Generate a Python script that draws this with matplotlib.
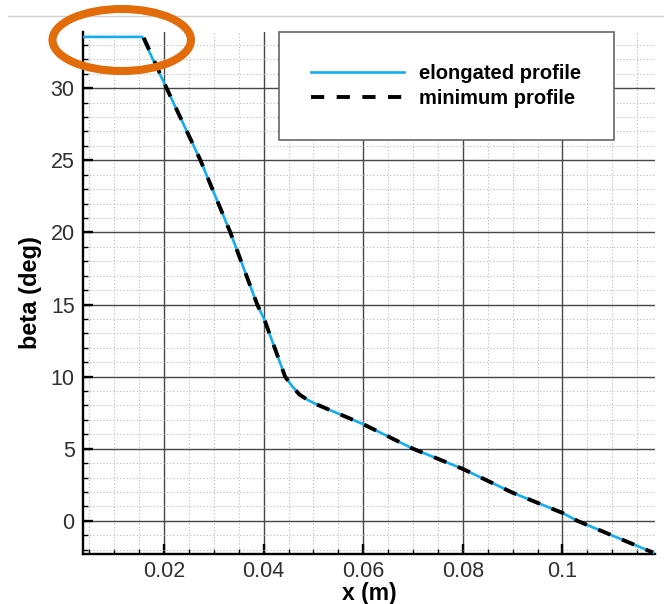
import matplotlib
matplotlib.use("Agg")
import matplotlib.pyplot as plt
from matplotlib.patches import Ellipse
from matplotlib.lines import Line2D
from matplotlib.ticker import MultipleLocator, FuncFormatter

plt.rcParams['font.family'] = ['Liberation Sans', 'DejaVu Sans']

# elongated profile (blue) - flat start then same curve
x_elong = [0.0037, 0.0156, 0.0205, 0.0273, 0.0333, 0.0387, 0.0402, 0.0443,
           0.0458, 0.0472, 0.0490, 0.0508, 0.0600, 0.0700, 0.0800, 0.0900,
           0.1000, 0.1030, 0.1182]
beta_elong = [33.56, 33.56, 30.0, 25.0, 20.0, 15.0, 13.9, 10.0,
              9.3, 8.75, 8.35, 8.05, 6.7, 5.0, 3.6, 1.95,
              0.55, 0.0, -2.2]

# minimum profile (black dashed)
x_min = [0.0159, 0.0205, 0.0273, 0.0333, 0.0387, 0.0402, 0.0443,
         0.0458, 0.0472, 0.0490, 0.0508, 0.0600, 0.0700, 0.0800, 0.0900,
         0.1000, 0.1030, 0.1182]
beta_min = [33.5, 30.0, 25.0, 20.0, 15.0, 13.9, 10.0,
            9.3, 8.75, 8.35, 8.05, 6.7, 5.0, 3.6, 1.95,
            0.55, 0.0, -2.2]

labels = ["elongated profile", "minimum profile"]

fig = plt.figure(figsize=(6.64, 6.04), dpi=100)
ax = fig.add_axes([83/664, 1-554/604, 572/664, 522/604])

ax.plot(x_elong, beta_elong, color='#12AEEF', lw=1.9, label=labels[0], zorder=3)
ax.plot(x_min, beta_min, color='black', lw=2.8, dashes=(3.4, 3.2),
        label=labels[1], zorder=4)

ax.set_xlim(0.0037, 0.1186)
ax.set_ylim(-2.3, 33.9)

ax.xaxis.set_major_locator(MultipleLocator(0.02))
ax.xaxis.set_minor_locator(MultipleLocator(0.005))
ax.yaxis.set_major_locator(MultipleLocator(5))
ax.yaxis.set_minor_locator(MultipleLocator(1))
ax.xaxis.set_major_formatter(FuncFormatter(lambda v, p: ('%g' % round(v, 4))))

ax.grid(which='major', color='0.28', lw=1.0, zorder=1)
ax.grid(which='minor', color='0.72', lw=0.8, linestyle=(0, (1, 2)), zorder=1)
ax.set_axisbelow(True)

for s in ['top', 'right']:
    ax.spines[s].set_visible(False)
for s in ['left', 'bottom']:
    ax.spines[s].set_linewidth(1.7)

ax.tick_params(which='major', direction='in', length=7, width=1.7,
               labelsize=15.5, pad=6, colors='black')
ax.tick_params(axis='x', which='major', pad=5)
ax.tick_params(which='minor', direction='in', length=3.5, width=1.0)
for t in ax.get_xticklabels() + ax.get_yticklabels():
    t.set_color('#303030')

ax.set_xlabel("x (m)", fontsize=16.5, fontweight='bold')
ax.xaxis.set_label_coords(0.5, -0.098)
ax.xaxis.label.set_va('bottom')
ax.set_ylabel("beta (deg)", fontsize=17, fontweight='bold', labelpad=6)

leg = ax.legend(loc='upper left', bbox_to_anchor=(0.343, 1.0), borderaxespad=0,
                fontsize=14.5, frameon=True, fancybox=False, handlelength=4.6,
                handletextpad=0.75, labelspacing=0.3, borderpad=1.6)
leg.get_frame().set_edgecolor('0.4')
leg.get_frame().set_linewidth(1.2)
leg.get_frame().set_alpha(1)
for t in leg.get_texts():
    t.set_fontweight('bold')

# page rule at the top
fig.add_artist(Line2D([8/664, 1.0], [1-16/604, 1-16/604], color='0.82', lw=1.0))

# orange annotation ellipse
fig.add_artist(Ellipse((121.75/664, 1-40/604), 138.5/664, 62/604,
                       transform=fig.transFigure, fill=False,
                       edgecolor='#E36C0A', lw=5.8, zorder=10))

fig.savefig("out.png", dpi=100)
